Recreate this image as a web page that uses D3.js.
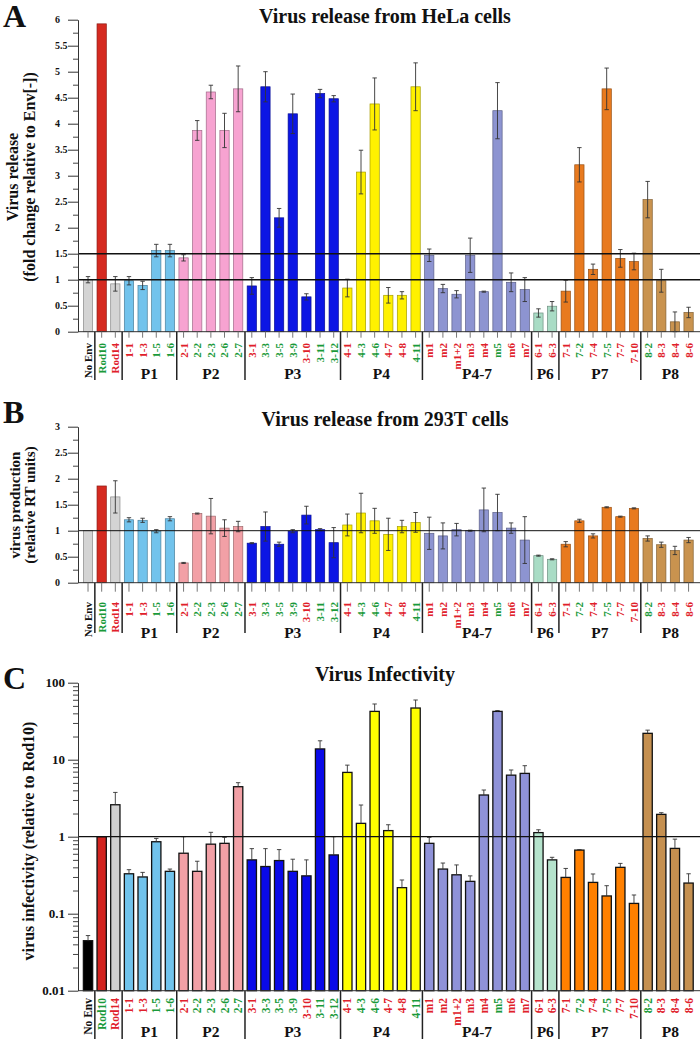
<!DOCTYPE html>
<html><head><meta charset="utf-8">
<script src="https://cdn.jsdelivr.net/npm/d3@7"></script>
<style>body{margin:0;background:#fff}svg{display:block}text{font-family:"Liberation Serif","Times New Roman",serif;font-weight:bold}</style>
</head><body><svg id="c" width="700" height="1039"></svg>
<script>
const categories = ["No Env","Rod10","Rod14","1-1","1-3","1-5","1-6","2-1","2-2","2-3","2-6","2-7",
 "3-1","3-3","3-5","3-9","3-10","3-11","3-12","4-1","4-3","4-6","4-7","4-8","4-11",
 "m1","m2","m1+2","m3","m4","m5","m6","m7","6-1","6-3","7-1","7-2","7-4","7-5","7-7","7-10",
 "8-2","8-3","8-4","8-6"];
const labelColors = ["k","g","r","r","r","g","g","r","g","g","g","g",
 "r","g","g","g","r","g","g","r","g","g","r","r","g",
 "r","r","r","r","r","g","r","r","r","r","r","g","r","g","r","r",
 "g","r","r","r"];
const groupNames = ["","","P1","P2","P3","P4","P4-7","P6","P7","P8"];
const groupSizes = [1,2,4,5,7,6,8,2,6,4];
const colorGroupSizes = [1,1,1,4,5,7,6,8,2,6,4];
const paletteA = ["#d4d4d4","#d52a20","#d4d4d4","#72c3ec","#f7a3d1","#0c16e4","#fff100","#8d94d1","#a9dcc5","#e87a1f","#c9934f"];
const paletteB = ["#d4d4d4","#d52a20","#d4d4d4","#72c3ec","#f2a0a6","#0c16e4","#fff100","#8d94d1","#a9dcc5","#e87a1f","#c9934f"];
const paletteC = ["#000000","#d22420","#d0d0d0","#71c3ec","#f2a0a6","#0a0ae8","#ffff00","#8f92d8","#b5e3cc","#ff8000","#c59050"];

const helaRelease = [1.0,5.92,0.92,0.98,0.89,1.56,1.56,1.42,3.87,4.61,3.87,4.67,
 0.88,4.71,2.19,4.19,0.67,4.58,4.48,0.84,3.07,4.38,0.70,0.70,4.71,
 1.47,0.83,0.72,1.47,0.77,4.25,0.95,0.81,0.36,0.49,0.78,3.21,1.20,4.67,1.41,1.35,
 2.54,0.98,0.19,0.37];
const helaErr = [0.06,0,0.14,0.08,0.08,0.12,0.12,0.06,0.19,0.13,0.33,0.44,
 0.16,0.29,0.18,0.38,0.06,0.08,0.06,0.17,0.42,0.5,0.15,0.07,0.46,
 0.12,0.08,0.07,0.33,0.01,0.54,0.18,0.23,0.08,0.09,0.21,0.33,0.10,0.40,0.17,0.16,
 0.35,0.22,0.19,0.10];
const t293Release = [1.0,1.86,1.65,1.21,1.20,0.99,1.23,0.38,1.33,1.28,1.05,1.08,
 0.76,1.08,0.74,0.99,1.30,1.02,0.77,1.11,1.34,1.19,0.93,1.08,1.16,
 0.95,0.90,1.02,1.00,1.40,1.35,1.05,0.82,0.52,0.45,0.74,1.19,0.90,1.45,1.27,1.43,
 0.85,0.73,0.62,0.82];
const t293Err = [0,0,0.31,0.04,0.04,0.03,0.04,0.01,0.01,0.34,0.16,0.10,
 0.01,0.28,0.04,0.03,0.17,0.02,0.29,0.21,0.38,0.24,0.31,0.12,0.19,
 0.31,0.25,0.12,0.01,0.42,0.35,0.10,0.45,0.01,0.01,0.05,0.03,0.04,0.01,0.01,0.01,
 0.05,0.05,0.08,0.05];
const infectivity = [0.0446,1.0,2.6,0.33,0.30,0.86,0.355,0.61,0.355,0.80,0.82,4.46,
 0.50,0.41,0.49,0.355,0.31,13.8,0.58,6.84,1.49,42.4,1.2,0.218,46.9,
 0.82,0.38,0.32,0.263,3.48,42.4,6.3,6.64,1.13,0.50,0.296,0.67,0.255,0.17,0.40,0.136,
 22.0,1.95,0.705,0.25];
const infectivityErr = [0.0074,0,1.16,0.043,0.044,0.09,0.025,0.39,0.125,0.34,0.16,0.57,
 0.20,0.29,0.19,0.155,0.19,3.8,0.42,1.66,1.09,10.5,0.23,0.056,12.7,
 0.16,0.075,0.11,0.047,0.56,1.1,1.05,1.72,0.10,0.04,0.091,0.01,0.073,0.061,0.05,0.039,
 2.2,0.10,0.225,0.08];
const yTicksA = [0,0.5,1,1.5,2,2.5,3,3.5,4,4.5,5,5.5,6];
const yTicksB = [0,0.5,1,1.5,2,2.5,3];
const yTicksC = [0.01,0.1,1,10,100];

const svg = d3.select("#c");
const labelFill = {k:"#111", g:"#1a9a3a", r:"#e0202a"};
const xb = d3.scaleBand().domain(categories).range([81.2,695.4]).paddingInner(0.32).paddingOuter(0.16);
const colorIdx = [];
colorGroupSizes.forEach((s,g)=>{for(let i=0;i<s;i++) colorIdx.push(g);});
const bounds = []; let acc=0;
groupSizes.forEach(s=>{bounds.push([acc,acc+s-1]); acc+=s;});
const sepX = k => (xb(categories[k-1]) + xb.bandwidth() + xb(categories[k]))/2;

function panel(o){
  const g = svg.append("g");
  const y = o.y;
  const base = y.range()[0];
  const bw = xb.bandwidth();
  g.selectAll("rect.bar").data(categories).join("rect")
    .attr("x", d=>xb(d)).attr("width", bw)
    .attr("y", (d,i)=>y(o.values[i])).attr("height",(d,i)=>base-y(o.values[i]))
    .attr("fill",(d,i)=>o.palette[colorIdx[i]])
    .attr("stroke",(d,i)=>o.outline ? "#111" : d3.color(o.palette[colorIdx[i]]).darker(1.2))
    .attr("stroke-width", o.outline ? 1.3 : 0.7);
  categories.forEach((d,i)=>{
    const e = o.errs[i]; if(!e) return;
    const v = o.values[i], cx = xb(d)+bw/2;
    const top = y(v+e), bot = o.symmetric ? y(v-e) : y(v);
    g.append("line").attr("x1",cx).attr("x2",cx).attr("y1",top).attr("y2",bot).attr("stroke","#333").attr("stroke-width",0.9);
    g.append("line").attr("x1",cx-2.2).attr("x2",cx+2.2).attr("y1",top).attr("y2",top).attr("stroke","#333").attr("stroke-width",0.9);
    if(o.symmetric) g.append("line").attr("x1",cx-2.2).attr("x2",cx+2.2).attr("y1",bot).attr("y2",bot).attr("stroke","#333").attr("stroke-width",0.9);
  });
  o.refs.forEach(r=>{
    g.append("line").attr("x1",78).attr("x2",700).attr("y1",y(r)).attr("y2",y(r))
     .attr("stroke","#111").attr("stroke-width",o.refW);
  });
  const ya = g.append("g").attr("transform","translate(78,0)")
    .call(d3.axisLeft(y).tickValues(o.major).tickSize(10).tickSizeOuter(0).tickFormat(o.fmt));
  ya.select(".domain").attr("stroke","#333").attr("stroke-width",1);
  ya.selectAll(".tick line").attr("stroke","#333");
  ya.selectAll(".tick text").attr("x",o.tickX).attr("text-anchor",o.anchor)
    .attr("font-size",o.tickFont).attr("fill","#111")
    .style("font-family",'"Liberation Serif",serif').style("font-weight","bold");
  const ym = g.append("g").attr("transform","translate(78,0)")
    .call(d3.axisLeft(y).tickValues(o.minor).tickSize(5).tickSizeOuter(0).tickFormat(""));
  ym.select(".domain").remove();
  ym.selectAll(".tick line").attr("stroke","#444");
  g.append("line").attr("x1",78).attr("x2",700).attr("y1",base).attr("y2",base).attr("stroke","#333").attr("stroke-width",1);
  if(o.barTick){
    const xa = g.append("g").attr("transform",`translate(0,${base})`)
      .call(d3.axisBottom(xb).tickSize(o.barTick).tickSizeOuter(0).tickFormat(""));
    xa.select(".domain").remove();
    xa.selectAll(".tick line").attr("stroke","#777");
  }
  g.selectAll("text.lab").data(categories).join("text").attr("class","lab")
    .attr("transform",d=>`translate(${xb(d)+bw/2},${o.labelTop}) rotate(-90)`)
    .attr("text-anchor","end").attr("dy","0.36em").attr("font-size",o.labFont)
    .attr("fill",(d,i)=>labelFill[labelColors[i]]).text(d=>d);
  bounds.forEach((b,gi)=>{
    if(gi>0){
      const sx = sepX(b[0]);
      g.append("line").attr("x1",sx).attr("x2",sx).attr("y1",base).attr("y2",o.sepBottom)
       .attr("stroke","#222").attr("stroke-width",1.5);
    }
    if(groupNames[gi]){
      const x0 = sepX(b[0]), x1 = b[1]+1<categories.length ? sepX(b[1]+1) : 700;
      g.append("text").attr("x",(x0+x1)/2).attr("y",o.groupY).attr("text-anchor","middle")
       .attr("font-size",15.5).attr("fill","#111").text(groupNames[gi]);
    }
  });
  g.append("text").attr("x",385).attr("y",o.titleY).attr("text-anchor","middle").attr("font-size",20).attr("fill","#111").text(o.title);
  g.append("text").attr("x",3).attr("y",o.letterY).attr("font-size",32).attr("fill","#111").text(o.letter);
  o.ylab.forEach(l=>{
    g.append("text").attr("transform",`translate(${l.x},${o.ylabY}) rotate(-90)`).attr("text-anchor","middle")
     .attr("font-size",o.ylabFont).attr("fill","#111").text(l.t);
  });
}

const fmt = d3.format("~g");
panel({
  y: d3.scaleLinear().domain([0,6]).range([331.7,19.7]),
  values: helaRelease, errs: helaErr, palette: paletteA, symmetric:true, outline:false,
  refs:[1,1.5], refW:1.4, major:yTicksA, minor:d3.range(0.25,6,0.5), fmt,
  tickX:-23, anchor:"start", tickFont:10, barTick:6, labelTop:343, labFont:11,
  sepBottom:380, groupY:379, title:"Virus release from HeLa cells", titleY:23, letter:"A", letterY:27,
  ylab:[{x:18,t:"Virus release"},{x:34.5,t:"(fold change relative to Env[-])"}], ylabY:177, ylabFont:16
});
panel({
  y: d3.scaleLinear().domain([0,3]).range([582.7,426.7]),
  values: t293Release, errs: t293Err, palette: paletteB, symmetric:true, outline:false,
  refs:[1], refW:1, major:yTicksB, minor:d3.range(0.25,3,0.5), fmt,
  tickX:-23, anchor:"start", tickFont:10, barTick:9, labelTop:602, labFont:11,
  sepBottom:633, groupY:638, title:"Virus release from 293T cells", titleY:426, letter:"B", letterY:423,
  ylab:[{x:19.5,t:"virus production"},{x:35,t:"(relative RT units)"}], ylabY:505, ylabFont:15
});
const yC = d3.scaleLog().domain([0.01,100]).range([990.7,682.7]);
panel({
  y: yC,
  values: infectivity, errs: infectivityErr, palette: paletteC, symmetric:false, outline:true,
  refs:[1], refW:1.3, major:yTicksC, minor:yC.ticks().filter(t=>Math.abs(Math.log10(t)-Math.round(Math.log10(t)))>1e-6), fmt:d=>String(d),
  tickX:-13, anchor:"end", tickFont:13, barTick:0, labelTop:998, labFont:11.5,
  sepBottom:1039, groupY:1037, title:"Virus Infectivity", titleY:681, letter:"C", letterY:689,
  ylab:[{x:34,t:"virus infectivity (relative to Rod10)"}], ylabY:841, ylabFont:16
});
</script></body></html>
